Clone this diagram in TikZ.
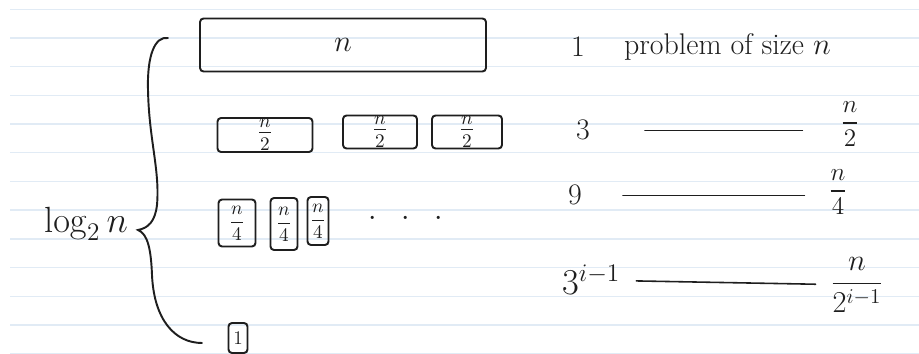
\documentclass[tikz,border=0pt]{standalone}
\definecolor{RuleBlue}{HTML}{E1EBF5}
\definecolor{InkGray}{HTML}{1E1E1E}
\usepackage{amsmath, amssymb}
\usepackage{tikz}
\usetikzlibrary{positioning, calc}

\begin{document}
\begin{tikzpicture}[x=0.02cm, y=-0.02cm,
  ink/.style={draw=InkGray, line width=1.1pt, line cap=round},
  subbox/.style={draw=InkGray, line width=1.1pt, rounded corners=2pt, inner sep=0pt, text=InkGray},
  lbl/.style={inner sep=1pt, text=InkGray},
  tally/.style={draw=InkGray, line width=0.9pt, line cap=round}]
  \useasboundingbox (0,0) rectangle (919,354);
  \fill[white] (0,0) rectangle (919,354);
  % Notebook rules
  \foreach \k in {0,...,12} {
    \draw[RuleBlue, line width=0.8pt] (10, 9.3+28.7*\k) -- (919, 9.3+28.7*\k);
  }
  % Level 0
  \node[subbox, minimum width=5.72cm, minimum height=1.06cm, font=\fontsize{16}{18}\selectfont]
    (whole) at (343,45) {$n$};
  % Level 1
  \foreach \nm/\cx/\cy/\w/\h in {half1/265/135/1.9/0.68, half2/380/132/1.48/0.66, half3/467/132/1.4/0.66} {
    \node[subbox, minimum width=\w cm, minimum height=\h cm, font=\fontsize{16}{18}\selectfont]
      (\nm) at (\cx,\cy) {$\frac{n}{2}$};
  }
  % Level 2
  \foreach \nm/\cx/\cy/\w/\h in {quart1/237/223/0.74/0.94, quart2/284/224/0.54/1.04, quart3/318/221/0.42/0.96} {
    \node[subbox, minimum width=\w cm, minimum height=\h cm, font=\fontsize{11}{13}\selectfont]
      (\nm) at (\cx,\cy) {$\dfrac{n}{4}$};
  }
  \node[lbl, font=\fontsize{17}{20}\selectfont] (more) at (406,219)
    {$\cdot$\hspace{14pt}$\cdot$\hspace{14pt}$\cdot$};
  % Leaf
  \node[subbox, minimum width=0.38cm, minimum height=0.6cm, font=\fontsize{11}{13}\selectfont]
    (unit) at (238,338) {1};
  % Depth brace
  \coordinate (braceTop) at (168,38);
  \coordinate (braceTip) at (138,230);
  \coordinate (braceBot) at (202,343);
  \draw[ink] (braceTop) .. controls (155,36) and (147,55) .. (148,90)
    .. controls (149,140) and (160,170) .. (157,205)
    .. controls (155,222) and (148,228) .. (braceTip)
    .. controls (148,234) and (151,250) .. (152,275)
    .. controls (154,320) and (175,343) .. (braceBot);
  \node[lbl, font=\fontsize{20}{24}\selectfont] (depth) at (86,224) {$\log_2 n$};
  % Counts and sizes
  \node[lbl, font=\fontsize{17}{20}\selectfont, anchor=base] (cnt1) at (578,57) {1};
  \node[lbl, font=\fontsize{17}{20}\selectfont, anchor=base west] (size1) at (622,55) {problem of size $n$};
  \node[lbl, font=\fontsize{17}{20}\selectfont, anchor=base] (cnt2) at (583,140) {3};
  \node[lbl, font=\fontsize{15}{18}\selectfont] (frac2) at (850,124) {$\dfrac{n}{2}$};
  \node[lbl, font=\fontsize{17}{20}\selectfont, anchor=base] (cnt3) at (575,205) {9};
  \node[lbl, font=\fontsize{15}{18}\selectfont] (frac3) at (838,192) {$\dfrac{n}{4}$};
  \node[lbl, font=\fontsize{22}{26}\selectfont, anchor=base west] (cnt4) at (560,295) {$3^{i-1}$};
  \node[lbl, font=\fontsize{18}{22}\selectfont] (frac4) at (857,285) {$\dfrac{n}{2^{i-1}}$};
  \draw[tally, shorten <=1.06cm, shorten >=0.72cm] (cnt2.east) -- (cnt2.east -| frac2.west);
  \draw[tally, shorten <=0.78cm, shorten >=0.44cm] (cnt3.east) -- (cnt3.east -| frac3.west);
  \draw[tally, shorten <=0.28cm, shorten >=0.26cm] (cnt4) -- (frac4);
\end{tikzpicture}
\end{document}
